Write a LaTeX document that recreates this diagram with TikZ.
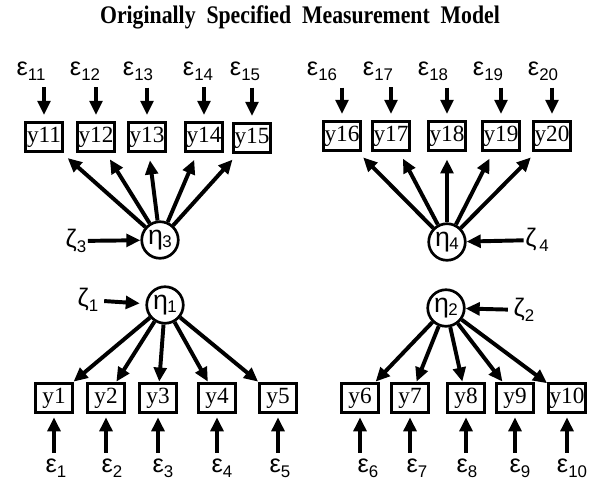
\documentclass[tikz,border=0pt]{standalone}
\usepackage{fontspec}
\setmainfont{Liberation Serif}
\newfontfamily\grk{Liberation Sans}
\usepackage{tikz}
\usetikzlibrary{arrows.meta, positioning}

% greek labels with lowered indices
\newcommand{\err}[1]{{\grk\fontsize{18}{18}\selectfont ε\raisebox{-0.35ex}{\fontsize{12}{12}\selectfont #1}}}
\newcommand{\lat}[1]{{\grk\fontsize{19}{19}\selectfont η\kern-0.5pt\raisebox{-0.2ex}{\fontsize{12}{12}\selectfont #1}}}
\newcommand{\dist}[1]{{\grk\fontsize{18}{18}\selectfont ζ\raisebox{-0.3ex}{\fontsize{12}{12}\selectfont #1}}}

\begin{document}
\begin{tikzpicture}[
  x=0.025cm, y=-0.025cm,
  every node/.style={inner sep=1pt},
  obs/.style={rectangle, draw, line width=2.3pt, minimum width=26pt,
              minimum height=21pt, inner sep=0.5pt,
              font=\fontsize{16.5}{16.5}\selectfont},
  lv/.style={circle, draw, line width=1.9pt, minimum size=26pt, inner sep=0pt},
  arrow/.style={-{Triangle[length=10pt, width=9pt]}, line width=2.8pt},
]
\useasboundingbox (0,0) rectangle (599,489);

\node (title) at (300,17)
      {\scalebox{0.86}[1]{\fontsize{18}{18}\selectfont\bfseries Originally\ \ Specified\ \ Measurement\ \ Model}};

% latent variables
\node[lv] (eta3) at (160,240) {\lat{3}};
\node[lv] (eta4) at (447,242) {\lat{4}};
\node[lv] (eta1) at (165,305) {\lat{1}};
\node[lv] (eta2) at (446,308) {\lat{2}};

% disturbances
\node (z3) at (76,241)  {\dist{3}};
\node (z4) at (537,240) {\dist{\,4}};
\node (z1) at (88,300)  {\dist{1}};
\node (z2) at (524,310) {\dist{2}};
\draw[arrow] (z3) -- (eta3);
\draw[arrow] (z4) -- (eta4);
\draw[arrow, shorten <=3pt, shorten >=4pt] (z1) -- (eta1);
\draw[arrow, shorten <=3pt] (z2) -- (eta2);

% indicators, upper row
\node[obs] (y11) at (44,137)  {y11};
\node[obs] (y12) at (96,137)  {y12};
\node[obs] (y13) at (147,137) {y13};
\node[obs] (y14) at (204,137) {y14};
\node[obs] (y15) at (252,138) {y15};
\node[obs] (y16) at (342,136) {y16};
\node[obs] (y17) at (391,136) {y17};
\node[obs] (y18) at (447,136) {y18};
\node[obs] (y19) at (501,136) {y19};
\node[obs] (y20) at (552,136) {y20};

% indicators, lower row
\node[obs] (y1)  at (54,398)  {y1};
\node[obs] (y2)  at (106,398) {y2};
\node[obs] (y3)  at (158,398) {y3};
\node[obs] (y4)  at (217,398) {y4};
\node[obs] (y5)  at (278,398) {y5};
\node[obs] (y6)  at (360,398) {y6};
\node[obs] (y7)  at (410,398) {y7};
\node[obs] (y8)  at (466,398) {y8};
\node[obs] (y9)  at (515,398) {y9};
\node[obs] (y10) at (567,398) {y10};

% measurement errors
\node (e11) at (31,71)  {\err{11}};
\node (e12) at (85,71)  {\err{12}};
\node (e13) at (138,71) {\err{13}};
\node (e14) at (198,71) {\err{14}};
\node (e15) at (245,71) {\err{15}};
\node (e16) at (322,71) {\err{16}};
\node (e17) at (378,71) {\err{17}};
\node (e18) at (433,71) {\err{18}};
\node (e19) at (488,71) {\err{19}};
\node (e20) at (543,71) {\err{20}};
\node (e1)  at (56,468)  {\err{1}};
\node (e2)  at (112,468) {\err{2}};
\node (e3)  at (163,468) {\err{3}};
\node (e4)  at (222,468) {\err{4}};
\node (e5)  at (280,468) {\err{5}};
\node (e6)  at (368,468) {\err{6}};
\node (e7)  at (417,468) {\err{7}};
\node (e8)  at (467,468) {\err{8}};
\node (e9)  at (520,468) {\err{9}};
\node (e10) at (572,468) {\err{10}};

\draw[arrow, shorten <=4pt, shorten >=4pt] (e11.south -| y11) -- (y11);
\draw[arrow, shorten <=4pt, shorten >=4pt] (e12.south -| y12) -- (y12);
\draw[arrow, shorten <=4pt, shorten >=4pt] (e13.south -| y13) -- (y13);
\draw[arrow, shorten <=4pt, shorten >=4pt] (e14.south -| y14) -- (y14);
\draw[arrow, shorten <=4pt, shorten >=4pt] (e15.south -| y15) -- (y15);
\draw[arrow, shorten <=4pt, shorten >=4pt] (e16.south -| y16) -- (y16);
\draw[arrow, shorten <=4pt, shorten >=4pt] (e17.south -| y17) -- (y17);
\draw[arrow, shorten <=4pt, shorten >=4pt] (e18.south -| y18) -- (y18);
\draw[arrow, shorten <=4pt, shorten >=4pt] (e19.south -| y19) -- (y19);
\draw[arrow, shorten <=4pt, shorten >=4pt] (e20.south -| y20) -- (y20);
\draw[arrow, shorten <=3pt, shorten >=2pt] (e1.north -| y1) -- (y1);
\draw[arrow, shorten <=3pt, shorten >=2pt] (e2.north -| y2) -- (y2);
\draw[arrow, shorten <=3pt, shorten >=2pt] (e3.north -| y3) -- (y3);
\draw[arrow, shorten <=3pt, shorten >=2pt] (e4.north -| y4) -- (y4);
\draw[arrow, shorten <=3pt, shorten >=2pt] (e5.north -| y5) -- (y5);
\draw[arrow, shorten <=3pt, shorten >=2pt] (e6.north -| y6) -- (y6);
\draw[arrow, shorten <=3pt, shorten >=2pt] (e7.north -| y7) -- (y7);
\draw[arrow, shorten <=3pt, shorten >=2pt] (e8.north -| y8) -- (y8);
\draw[arrow, shorten <=3pt, shorten >=2pt] (e9.north -| y9) -- (y9);
\draw[arrow, shorten <=3pt, shorten >=2pt] (e10.north -| y10) -- (y10);

% loadings
\draw[arrow, shorten >=5pt] (eta3) -- (y11);
\draw[arrow, shorten >=5pt] (eta3) -- (y12);
\draw[arrow, shorten >=5pt] (eta3) -- (y13);
\draw[arrow, shorten >=5pt] (eta3) -- (y14);
\draw[arrow, shorten >=5pt] (eta3) -- (y15);
\draw[arrow, shorten >=5pt] (eta4) -- (y16);
\draw[arrow, shorten >=5pt] (eta4) -- (y17);
\draw[arrow, shorten >=5pt] (eta4) -- (y18);
\draw[arrow, shorten >=5pt] (eta4) -- (y19);
\draw[arrow, shorten >=5pt] (eta4) -- (y20);
\draw[arrow] (eta1) -- (y1);
\draw[arrow] (eta1) -- (y2);
\draw[arrow] (eta1) -- (y3);
\draw[arrow] (eta1) -- (y4);
\draw[arrow] (eta1) -- (y5);
\draw[arrow] (eta2) -- (y6);
\draw[arrow] (eta2) -- (y7);
\draw[arrow] (eta2) -- (y8);
\draw[arrow] (eta2) -- (y9);
\draw[arrow] (eta2) -- (y10);
\end{tikzpicture}
\end{document}
